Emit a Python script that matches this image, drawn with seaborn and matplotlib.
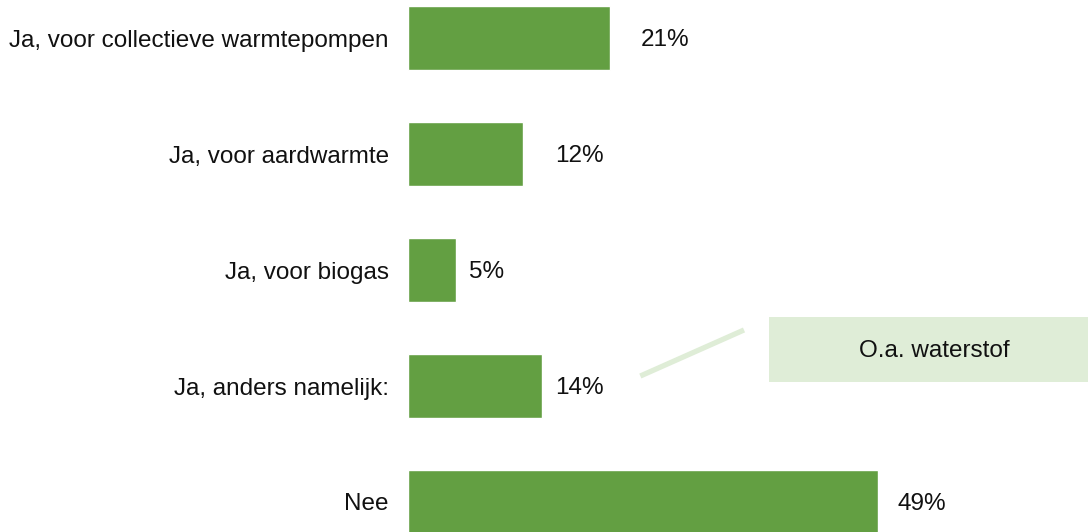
import matplotlib
matplotlib.use("Agg")
import matplotlib.pyplot as plt
import seaborn as sns
import pandas as pd
from matplotlib.patches import Rectangle

categories = [
    "Ja, voor collectieve warmtepompen",
    "Ja, voor aardwarmte",
    "Ja, voor biogas",
    "Ja, anders namelijk:",
    "Nee",
]
values = [21, 12, 5, 14, 49]
note_text = "O.a. waterstof"

# gap between bar end and value label, in pixels
label_gap_px = [31, 32, 13, 13, 19]

bar_color = "#639F42"
note_color = "#DFEDD7"
text_color = "#111111"
fs = 17.5
px = 9.6  # pixels per percent

df = pd.DataFrame({"antwoord": categories, "pct": values})

sns.set_theme(style="white")
plt.rcParams["font.family"] = ["Liberation Sans", "DejaVu Sans"]

fig = plt.figure(figsize=(10.88, 5.32), dpi=100)
ax = fig.add_axes([408 / 1088, 0, 680 / 1088, 1])

sns.barplot(data=df, y="antwoord", x="pct", orient="h", color=bar_color,
            width=0.55, saturation=1, ax=ax)

ax.set_xlim(0, 680 / px)
ax.set_ylim((532 - 38) / 116, -38 / 116)
ax.set_xlabel("")
ax.set_ylabel("")
ax.set_xticks([])
ax.tick_params(axis="y", length=0, pad=13.7, labelsize=fs, labelcolor=text_color)
for s in ax.spines.values():
    s.set_visible(False)

for i, v in enumerate(values):
    ax.text(v + label_gap_px[i] / px, i + 0.015, f"{v}%", va="center", ha="left",
            fontsize=fs, color=text_color)

# note for "anders namelijk"
ax.plot([24.2, 35.0], [2.914, 2.517], color=note_color, lw=3.8, solid_capstyle="butt",
        clip_on=False)
ax.add_patch(Rectangle((37.6, 2.405), 70.9 - 37.6, 0.561, facecolor=note_color,
                       edgecolor="none", clip_on=False))
ax.text((934 - 408) / px, 2.70, note_text, ha="center", va="center",
        fontsize=fs, color=text_color)

fig.savefig("out.png", dpi=100)
